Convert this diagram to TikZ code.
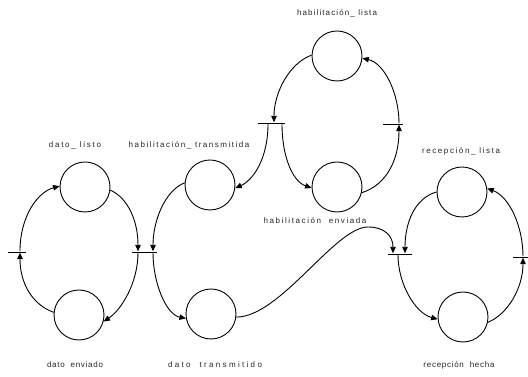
\documentclass[tikz,border=0pt]{standalone}
\usepackage{fontspec}
\setmainfont{Liberation Sans}
\usetikzlibrary{arrows.meta}
% label text with extra tracking between letters
\newcommand\tracked[2]{{\addfontfeatures{LetterSpace=#1}#2}}

\begin{document}
\begin{tikzpicture}[x=1pt,y=1pt,
  place/.style={circle, draw, line width=0.9pt, minimum size=50pt, inner sep=0pt},
  trans/.style={rectangle, fill=black, inner sep=0pt, minimum height=0.9pt},
  arc/.style={line width=0.9pt, -{Triangle[length=6.5pt,width=5.5pt]}},
  lbl/.style={font=\fontsize{8}{9}\selectfont, text=black!85, inner sep=0pt}]
\useasboundingbox (0,0) rectangle (528,377);

% places
\node[place] (dl) at (85,190) {};
\node[place] (de) at (79,62) {};
\node[place] (ht) at (210,192) {};
\node[place] (dt) at (211,63) {};
\node[place] (hl) at (337,321) {};
\node[place] (he) at (337,190) {};
\node[place] (rl) at (462,185) {};
\node[place] (rh) at (463,60) {};

% transitions
\node[trans, minimum width=18pt] (t1) at (16.5,125) {};
\node[trans, minimum width=25pt] (t2) at (144.5,125) {};
\node[trans, minimum width=27pt] (t3) at (271.5,254) {};
\node[trans, minimum width=20pt] (t4) at (393,253) {};
\node[trans, minimum width=24pt] (t5) at (400,123) {};
\node[trans, minimum width=15pt] (t6) at (520,120) {};

% sender loop
\draw[arc] (de.174) .. controls +(-22,8) and +(0,-30) .. ([xshift=3.5pt]t1.south);
\draw[arc] ([xshift=3.5pt]t1.north) .. controls +(0,35) and +(-22,-6) .. (dl.178);
\draw[arc] (dl.-7) .. controls +(18,-8) and +(0,30) .. ([xshift=-6.5pt]t2.north);
\draw[arc] ([xshift=-6.5pt]t2.south) .. controls +(0,-30) and +(18,12) .. (de.-15);

% channel
\draw[arc] (ht.175) .. controls +(-20,-8) and +(0,30) .. ([xshift=8.5pt]t2.north);
\draw[arc] ([xshift=8.5pt]t2.south) .. controls +(0,-30) and +(-20,4) .. (dt.190);
\coordinate (crest) at (368,150);
\draw[arc] (dt.-7) .. controls +(44,0) and +(-33,0) .. (crest)
  .. controls +(17,0) and +(0,17) .. ([xshift=-7pt]t5.north);

% enabling loop
\draw[arc] (hl.178) .. controls +(-22,-8) and +(0,30) .. ([xshift=2.5pt]t3.north);
\draw[arc] ([xshift=-3.5pt]t3.south) .. controls +(0,-35) and +(18,8) .. (ht.-7);
\draw[arc] ([xshift=10.5pt]t3.south) .. controls +(0,-35) and +(-18,6) .. (he.182);
\draw[arc] (he.-13) .. controls +(25,8) and +(0,-35) .. ([xshift=6pt]t4.south);
\draw[arc] ([xshift=6pt]t4.north) .. controls +(0,30) and +(22,-5) .. (hl.-5);

% receiver loop
\draw[arc] (rl.180) .. controls +(-22,-6) and +(0,30) .. ([xshift=5pt]t5.north);
\draw[arc] ([xshift=-2pt]t5.south) .. controls +(0,-30) and +(-22,6) .. (rh.185);
\draw[arc] (rh.-12) .. controls +(20,8) and +(0,-30) .. ([xshift=3pt]t6.south);
\draw[arc] ([xshift=3pt]t6.north) .. controls +(0,30) and +(22,-8) .. (rl.8);

% labels
\node[lbl] (lhl) at (337,364) {\tracked{14}{habilitación\_ lista}};
\node[lbl] (ldl) at (75,232) {\tracked{22}{dato\_ listo}};
\node[lbl] (lht) at (189,232) {\tracked{19}{habilitación\_ transmitida}};
\node[lbl] (lrl) at (461,226) {\tracked{20}{recepción\_ lista}};
\node[lbl] (lhe) at (315,156) {\tracked{20}{habilitación\ \ enviada}};
\node[lbl] (lde) at (75,12) {\tracked{9}{dato\ \ enviado}};
\node[lbl] (ldt) at (215,12) {\tracked{29}{dato\ \ transmitido}};
\node[lbl] (lrh) at (459,12) {\tracked{9}{recepción\ \ hecha}};
\end{tikzpicture}
\end{document}
